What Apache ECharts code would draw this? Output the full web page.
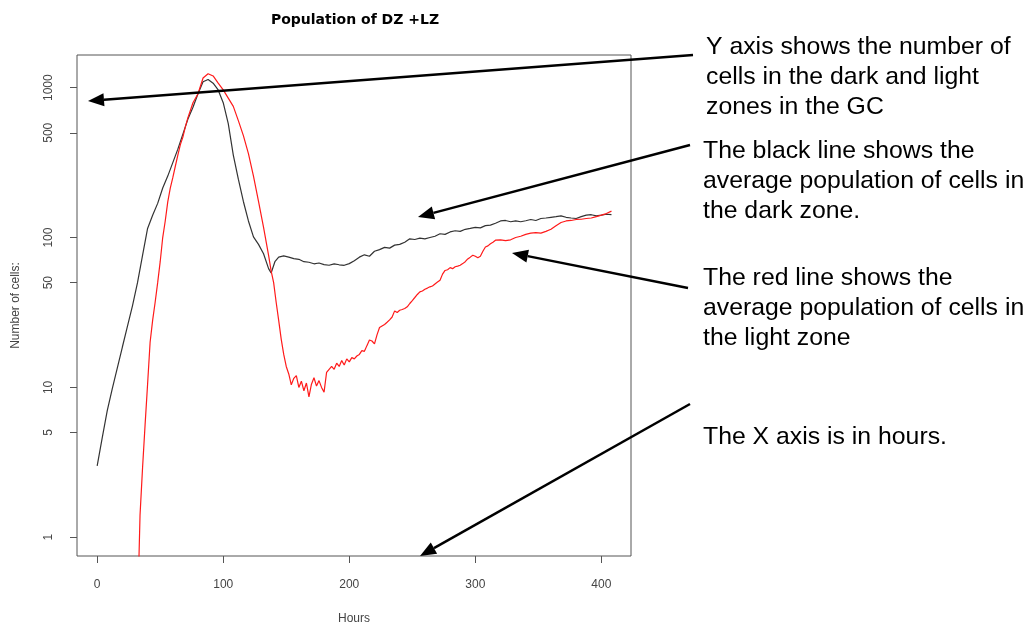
<!DOCTYPE html>
<html>
<head>
<meta charset="utf-8">
<title>Population of DZ +LZ</title>
<script src="https://cdn.jsdelivr.net/npm/echarts@6/dist/echarts.min.js"></script>
<style>
html, body { margin: 0; padding: 0; background: #fff; }
#chart { width: 1028px; height: 626px; }
</style>
</head>
<body>
<div id="chart"></div>
<script>
// dark zone (black line): hours and mean cells
const dzHours = [0, 4, 8, 12, 16, 20, 24, 28, 32, 36, 40, 44, 48, 52, 56, 60, 64, 68, 72, 76,
  80, 84, 88, 92, 96, 100, 104, 108, 112, 116, 120, 124, 128, 132, 136, 138, 141, 144,
  148, 152, 156, 160, 164, 168, 172, 176, 180, 184, 188, 192, 196, 200, 204, 208, 212, 216,
  220, 224, 228, 232, 236, 240, 244, 248, 252, 256, 260, 264, 268, 272, 276, 280, 284, 288,
  292, 296, 300, 304, 308, 312, 316, 320, 324, 328, 332, 336, 340, 344, 348, 352, 356, 360,
  364, 368, 372, 376, 380, 384, 388, 392, 396, 400, 404, 408]
const dzCells = [3.0, 4.6, 7.0, 9.8, 13.5, 18.6, 25.5, 35, 50, 76, 115, 141, 169, 214, 257, 316, 389, 490, 617, 741,
  912, 1096, 1135, 1072, 966, 794, 575, 355, 245, 174, 129, 101, 90, 78, 62, 58, 69, 74,
  75.4, 74, 72.4, 71.6, 69, 68.4, 66.8, 67.6, 66, 65.3, 66.8, 65.8, 65.3, 67, 70, 74, 76.7, 75,
  81, 83, 86, 85, 89, 90, 93, 98, 97, 99, 98, 100, 102, 106, 105, 109, 111, 110,
  113.5, 115, 117, 116, 120, 121, 124.5, 129, 130, 127.5, 129, 127.5, 129.5, 132, 130, 134, 135, 136.5,
  138, 139.6, 136.5, 135, 134, 138, 141, 142, 139.6, 141, 143, 142]

// light zone (red line)
const lzHours = [32, 34, 36, 38, 40, 42, 44, 46, 48, 50, 52, 54, 56, 58, 60, 62, 64, 66, 68, 70, 72,
  76, 80, 84, 88, 92, 96, 100, 104, 108, 112, 116, 120, 124, 128, 132, 136, 138, 140, 142, 144,
  146, 148, 150, 152, 154, 156, 158, 160, 162, 164, 166, 168, 170, 172, 174, 176, 178, 180, 182,
  184, 186, 188, 190, 192, 194, 196, 198, 200, 202, 204, 206, 208, 210, 212, 214, 216, 218, 220,
  222, 224, 226, 228, 230, 232, 234, 236, 238, 240, 242, 244, 246, 248, 250, 252, 254, 256, 258,
  260, 262, 264, 266, 268, 270, 272, 274, 276, 278, 280, 282, 284, 286, 288, 290, 292, 294, 296,
  298, 300, 302, 304, 306, 308, 310, 312, 314, 316, 320, 324, 328, 332, 336, 340, 344, 348, 352,
  356, 360, 364, 368, 372, 376, 380, 384, 388, 392, 396, 400, 404, 408]
const lzCells = [0.3, 1.4, 2.9, 5.6, 10.5, 20, 28, 37, 50, 69, 100, 129, 173, 214, 251, 299, 355, 417, 468, 550, 631,
  794, 912, 1161, 1240, 1197, 1072, 966, 851, 750, 603, 479, 363, 257, 174, 117, 76, 60, 50, 37, 28,
  21, 16.6, 13.8, 12.3, 10.4, 11.5, 12, 10, 11, 9.5, 10.7, 8.65, 10.5, 11.6, 10.2, 11.1, 10, 9.3, 12.6,
  13.2, 13.8, 13.2, 14.5, 13.8, 15.1, 14.1, 15.5, 14.8, 15.8, 15.5, 16.2, 16.6, 17.6, 17.4, 19, 20.7, 20.4, 19.5,
  22.4, 25.1, 25.7, 26.3, 27.2, 28.2, 29.5, 32.4, 31.6, 32.7, 33.1, 33.6, 34.5, 36.3, 38, 39.8, 41.7, 43.4, 44,
  45.2, 46, 46.9, 47.5, 49, 50.5, 51.9, 57, 60.3, 61, 63, 62, 63.8, 64.5, 65.3, 67, 69, 72, 74,
  76.2, 75, 73.3, 75, 81, 86.5, 88, 91, 93, 96, 96.6, 95.5, 96.6, 100, 102, 105, 107, 108, 107,
  110, 113.5, 120, 126, 129, 130, 132, 132.4, 134, 135, 138, 141, 144.5, 150]

const xTicks = [0, 100, 200, 300, 400]
const yTicks = [1, 5, 10, 50, 100, 500, 1000]

const noteY = ['Y axis shows the number of', 'cells in the dark and light', 'zones in the GC']
const noteDark = ['The black line shows the', 'average population of cells in', 'the dark zone.']
const noteLight = ['The red line shows the', 'average population of cells in', 'the light zone']
const noteX = ['The X axis is in hours.']

const pairs = (xs, ys) => xs.map((x, i) => [x, ys[i]])

// annotation arrow: shaft plus filled head at (x2, y2)
function arrow(x1, y1, x2, y2) {
  const a = Math.atan2(y2 - y1, x2 - x1)
  const len = 16
  const w = 6.5
  const bx = x2 - len * Math.cos(a)
  const by = y2 - len * Math.sin(a)
  const nx = -Math.sin(a) * w
  const ny = Math.cos(a) * w
  return [
    { type: 'line', shape: { x1: x1, y1: y1, x2: bx, y2: by }, style: { stroke: '#000', lineWidth: 2.5 }, z: 100 },
    { type: 'polygon', shape: { points: [[x2, y2], [bx + nx, by + ny], [bx - nx, by - ny]] }, style: { fill: '#000' }, z: 100 }
  ]
}

function note(lines, x, y) {
  return {
    type: 'text', x: x, y: y, z: 100,
    style: {
      text: lines.join('\n'),
      fontSize: 24.8,
      fontFamily: 'Liberation Sans',
      lineHeight: 30,
      fill: '#000',
      verticalAlign: 'top'
    }
  }
}

const axisFont = { fontFamily: 'Liberation Sans', fontSize: 12, color: '#444' }

const options = {
  animation: false,
  backgroundColor: '#fff',
  title: {
    text: 'Population of DZ +LZ',
    left: 350,
    top: 8,
    textAlign: 'center',
    textStyle: { fontFamily: 'DejaVu Sans', fontSize: 14, fontWeight: 'bold', color: '#000' }
  },
  grid: {
    left: 77,
    right: 397,
    top: 55,
    bottom: 70,
    show: true,
    borderColor: '#555',
    borderWidth: 1,
    outerBoundsMode: 'none'
  },
  xAxis: {
    type: 'value',
    min: -16,
    max: 423.5,
    name: 'Hours',
    nameLocation: 'middle',
    nameGap: 57,
    nameMoveOverlap: false,
    nameTextStyle: axisFont,
    axisLine: { show: false, onZero: false },
    axisTick: { show: true, length: 7, lineStyle: { color: '#555' }, customValues: xTicks },
    axisLabel: Object.assign({ customValues: xTicks, margin: 23 }, axisFont),
    splitLine: { show: false }
  },
  yAxis: {
    type: 'log',
    logBase: 10,
    min: 0.75,
    max: 1652,
    name: 'Number of cells:',
    nameLocation: 'middle',
    nameGap: 55,
    nameMoveOverlap: false,
    nameTextStyle: axisFont,
    axisLine: { show: false, onZero: false },
    axisTick: { show: true, length: 7, lineStyle: { color: '#555' }, customValues: yTicks },
    axisLabel: Object.assign({
      customValues: yTicks,
      rotate: 90,
      margin: 22,
      formatter: (v) => String(v)
    }, axisFont),
    splitLine: { show: false },
    minorTick: { show: false }
  },
  series: [
    {
      name: 'DZ',
      type: 'line',
      data: pairs(dzHours, dzCells),
      showSymbol: false,
      clip: true,
      lineStyle: { color: '#333', width: 1.2 }
    },
    {
      name: 'LZ',
      type: 'line',
      data: pairs(lzHours, lzCells),
      showSymbol: false,
      clip: true,
      lineStyle: { color: '#ff1a1a', width: 1.2 }
    }
  ],
  graphic: [].concat(
    note(noteY, 706, 32),
    note(noteDark, 703, 136),
    note(noteLight, 703, 263),
    note(noteX, 703, 422),
    arrow(693, 55, 88, 101),
    arrow(690, 145, 418, 217),
    arrow(688, 288, 512, 253),
    arrow(690, 404, 420, 556)
  )
}

const chartInstance = echarts.init(document.getElementById('chart'))
chartInstance.setOption(options)
</script>
</body>
</html>
